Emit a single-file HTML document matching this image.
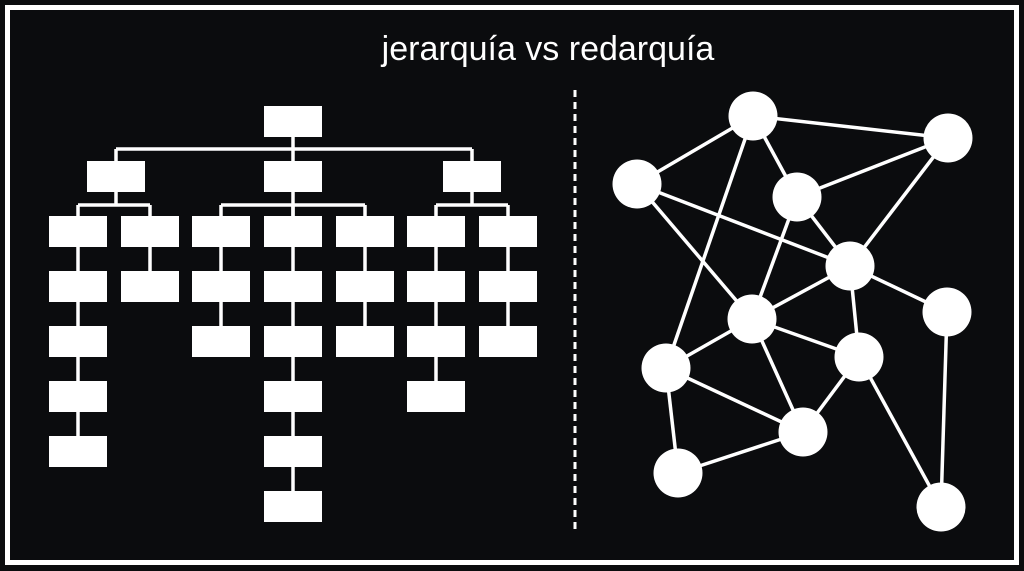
<!DOCTYPE html>
<html><head><meta charset="utf-8"><style>
html,body{margin:0;padding:0;background:#0b0c0e;}
body{width:1024px;height:571px;overflow:hidden;position:relative;}
</style></head><body>
<svg width="1024" height="571" xmlns="http://www.w3.org/2000/svg" style="position:absolute;left:0;top:0">
<rect x="0" y="0" width="1024" height="571" fill="#0b0c0e"/>
<rect x="7.5" y="7.5" width="1009" height="555" fill="none" stroke="#fff" stroke-width="5"/>
<text x="548" y="60" text-anchor="middle" font-family="Liberation Sans, sans-serif" font-size="34" fill="#fff">jerarquía vs redarquía</text>
<line x1="575" y1="90" x2="575" y2="530" stroke="#fff" stroke-width="3" stroke-dasharray="7,5"/>
<g stroke="#fff" stroke-width="3.5" fill="none">
<line x1="293" y1="137" x2="293" y2="162"/>
<line x1="116" y1="149" x2="472" y2="149"/>
<line x1="116" y1="149" x2="116" y2="162"/>
<line x1="472" y1="149" x2="472" y2="162"/>
<line x1="116" y1="192" x2="116" y2="205"/>
<line x1="293" y1="192" x2="293" y2="216"/>
<line x1="472" y1="192" x2="472" y2="205"/>
<line x1="78" y1="205" x2="150" y2="205"/>
<line x1="221" y1="205" x2="365" y2="205"/>
<line x1="436" y1="205" x2="508" y2="205"/>
<line x1="78" y1="205" x2="78" y2="436"/>
<line x1="150" y1="205" x2="150" y2="271"/>
<line x1="221" y1="205" x2="221" y2="326"/>
<line x1="293" y1="205" x2="293" y2="491"/>
<line x1="365" y1="205" x2="365" y2="326"/>
<line x1="436" y1="205" x2="436" y2="381"/>
<line x1="508" y1="205" x2="508" y2="326"/>
</g>
<g fill="#fff">
<rect x="264" y="106" width="58" height="31"/>
<rect x="87" y="161" width="58" height="31"/>
<rect x="264" y="161" width="58" height="31"/>
<rect x="443" y="161" width="58" height="31"/>
<rect x="49" y="216" width="58" height="31"/><rect x="49" y="271" width="58" height="31"/><rect x="49" y="326" width="58" height="31"/><rect x="49" y="381" width="58" height="31"/><rect x="49" y="436" width="58" height="31"/>
<rect x="121" y="216" width="58" height="31"/><rect x="121" y="271" width="58" height="31"/>
<rect x="192" y="216" width="58" height="31"/><rect x="192" y="271" width="58" height="31"/><rect x="192" y="326" width="58" height="31"/>
<rect x="264" y="216" width="58" height="31"/><rect x="264" y="271" width="58" height="31"/><rect x="264" y="326" width="58" height="31"/><rect x="264" y="381" width="58" height="31"/><rect x="264" y="436" width="58" height="31"/><rect x="264" y="491" width="58" height="31"/>
<rect x="336" y="216" width="58" height="31"/><rect x="336" y="271" width="58" height="31"/><rect x="336" y="326" width="58" height="31"/>
<rect x="407" y="216" width="58" height="31"/><rect x="407" y="271" width="58" height="31"/><rect x="407" y="326" width="58" height="31"/><rect x="407" y="381" width="58" height="31"/>
<rect x="479" y="216" width="58" height="31"/><rect x="479" y="271" width="58" height="31"/><rect x="479" y="326" width="58" height="31"/>
</g>
<g stroke="#fff" stroke-width="3.5">
<line x1="753" y1="116" x2="948" y2="138"/>
<line x1="753" y1="116" x2="637" y2="184"/>
<line x1="753" y1="116" x2="797" y2="197"/>
<line x1="753" y1="116" x2="666" y2="368"/>
<line x1="948" y1="138" x2="797" y2="197"/>
<line x1="948" y1="138" x2="850" y2="266"/>
<line x1="637" y1="184" x2="850" y2="266"/>
<line x1="637" y1="184" x2="752" y2="319"/>
<line x1="797" y1="197" x2="752" y2="319"/>
<line x1="797" y1="197" x2="850" y2="266"/>
<line x1="850" y1="266" x2="752" y2="319"/>
<line x1="850" y1="266" x2="947" y2="312"/>
<line x1="850" y1="266" x2="859" y2="357"/>
<line x1="752" y1="319" x2="666" y2="368"/>
<line x1="752" y1="319" x2="859" y2="357"/>
<line x1="752" y1="319" x2="803" y2="432"/>
<line x1="666" y1="368" x2="803" y2="432"/>
<line x1="666" y1="368" x2="678" y2="473"/>
<line x1="678" y1="473" x2="803" y2="432"/>
<line x1="859" y1="357" x2="803" y2="432"/>
<line x1="859" y1="357" x2="941" y2="507"/>
<line x1="947" y1="312" x2="941" y2="507"/>
</g>
<g fill="#fff">
<circle cx="753" cy="116" r="24.5"/><circle cx="948" cy="138" r="24.5"/><circle cx="637" cy="184" r="24.5"/>
<circle cx="797" cy="197" r="24.5"/><circle cx="850" cy="266" r="24.5"/><circle cx="947" cy="312" r="24.5"/>
<circle cx="752" cy="319" r="24.5"/><circle cx="859" cy="357" r="24.5"/><circle cx="666" cy="368" r="24.5"/>
<circle cx="803" cy="432" r="24.5"/><circle cx="678" cy="473" r="24.5"/><circle cx="941" cy="507" r="24.5"/>
</g>
</svg>
</body></html>
